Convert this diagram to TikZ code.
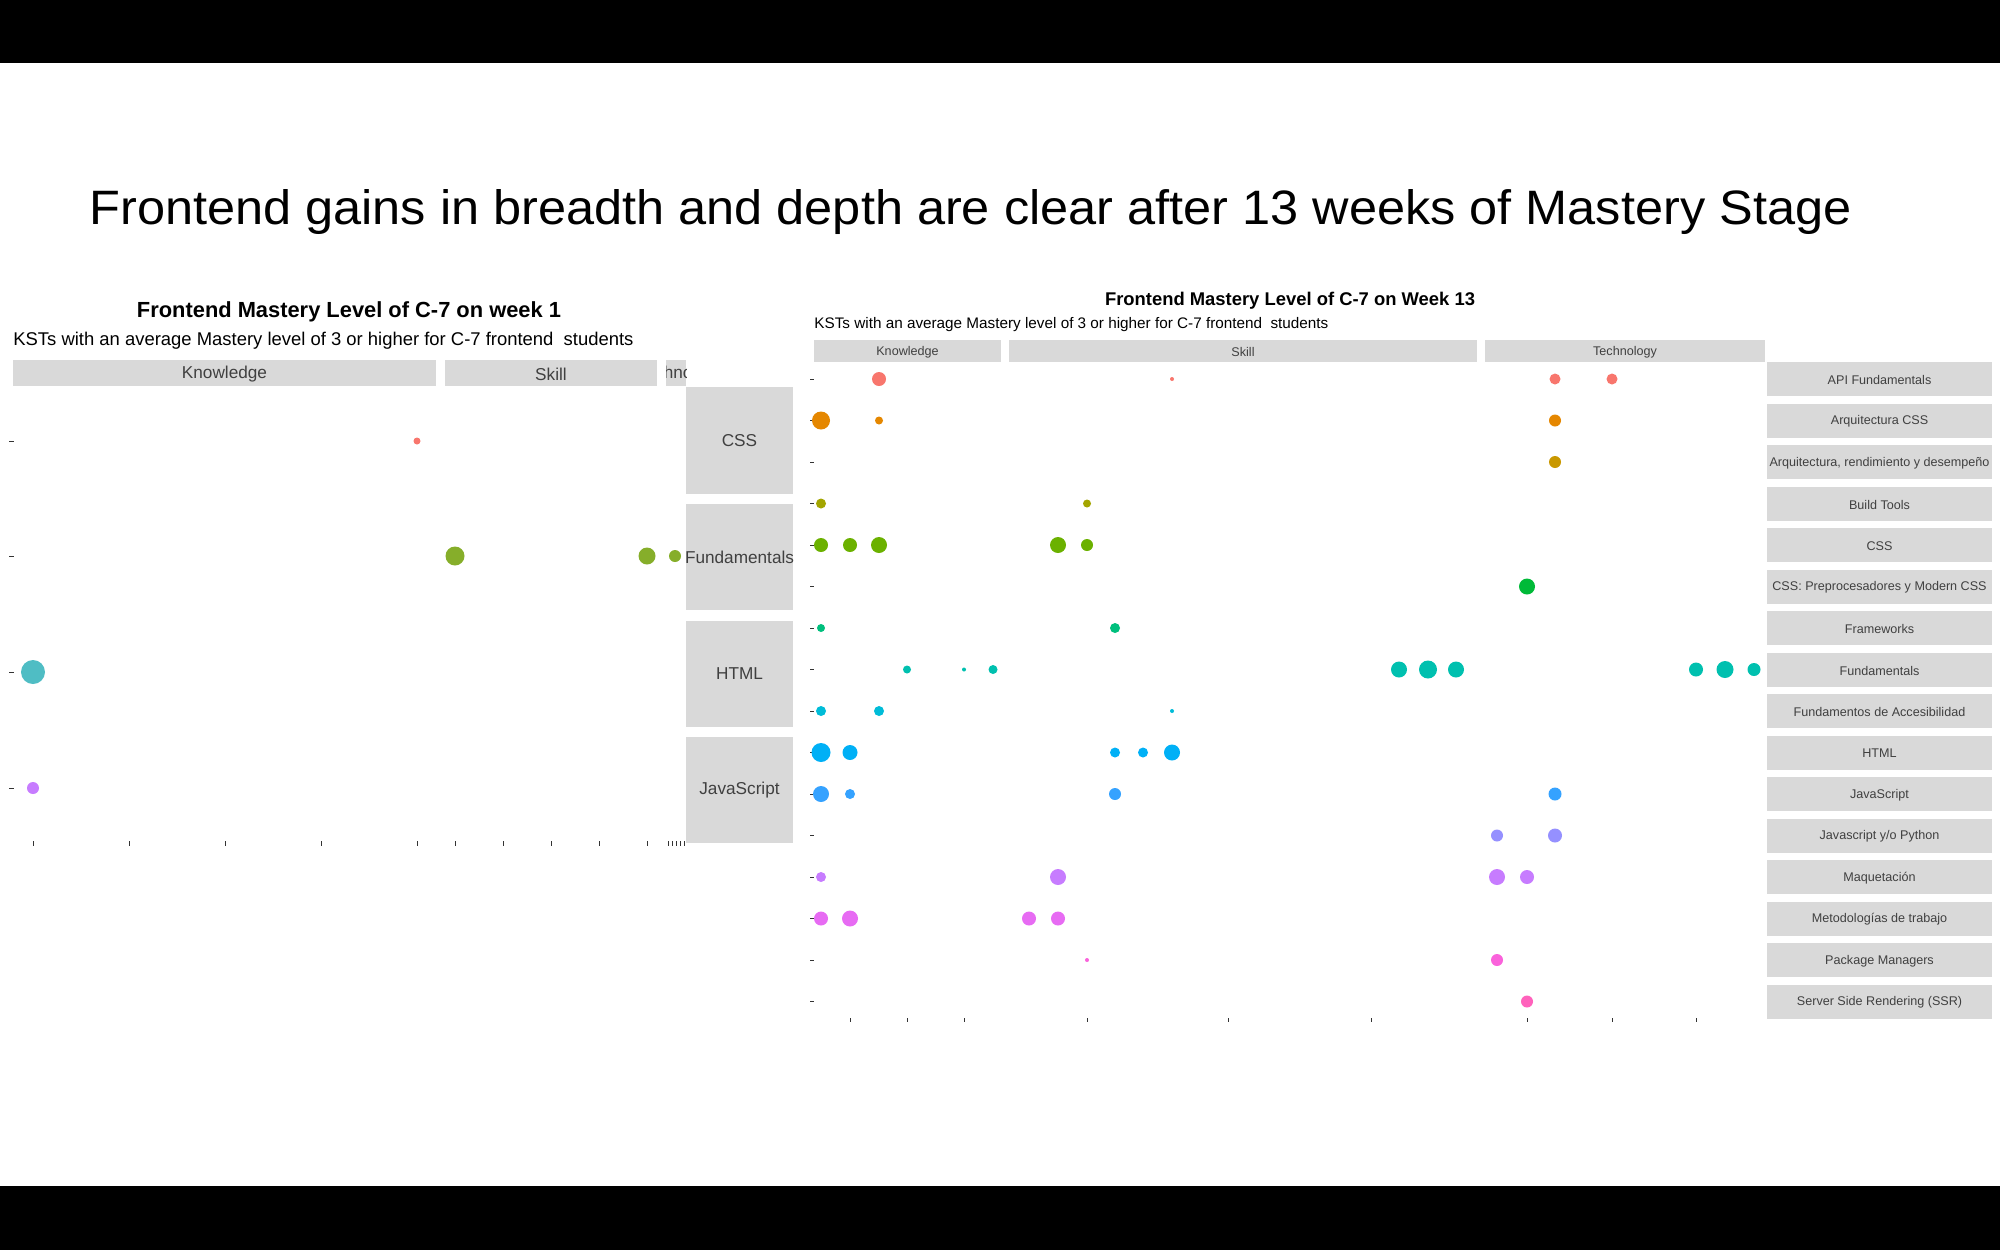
\documentclass[tikz,border=0pt]{standalone}
\usepackage{fontspec}
\setmainfont{Liberation Sans}
\usepackage{graphicx}
\definecolor{strip}{HTML}{D9D9D9}
\definecolor{tick}{HTML}{333333}
\definecolor{c1}{HTML}{F8766D}\definecolor{c2}{HTML}{E58700}\definecolor{c3}{HTML}{C99800}
\definecolor{c4}{HTML}{A3A500}\definecolor{c5}{HTML}{6BB100}\definecolor{c6}{HTML}{00BA38}
\definecolor{c7}{HTML}{00BF7D}\definecolor{c8}{HTML}{00C0AF}\definecolor{c9}{HTML}{00BCD8}
\definecolor{c10}{HTML}{00B0F6}\definecolor{c11}{HTML}{35A2FF}\definecolor{c12}{HTML}{9590FF}
\definecolor{c13}{HTML}{C77CFF}\definecolor{c14}{HTML}{E76BF3}\definecolor{c15}{HTML}{FA62DB}
\definecolor{c16}{HTML}{FF62BC}
\definecolor{lred}{HTML}{F8766D}\definecolor{lgreen}{HTML}{86AE2A}\definecolor{lteal}{HTML}{4FBDC4}\definecolor{lpurp}{HTML}{C77CFF}
\newcommand{\fitbox}[3]{\resizebox{#1pt}{#2}{#3}}
\newcommand{\lstrip}[1]{{\fontsize{8.6}{10}\selectfont\color{black!75}#1}}
\newcommand{\rstrip}[1]{{\fontsize{6.3}{7}\selectfont\color{black!75}#1}}
\begin{document}
\begin{tikzpicture}[x=0.5pt,y=-0.5pt,
  stripbox/.style={fill=strip,draw=none},
  dotc/.style={circle,inner sep=0pt,draw=none},
  tk/.style={draw=tick,line width=0.5pt}]
\useasboundingbox (0,0) rectangle (2000,1250);
\fill[black] (0,0) rectangle (2000,63);
\fill[black] (0,1186) rectangle (2000,1250);
\node[anchor=west,inner sep=0pt] (maintitle) at (89,212) {\fitbox{881}{17.5pt}{Frontend gains in breadth and depth are clear after 13 weeks of Mastery Stage}};

% ---------- left chart ----------
\node[inner sep=0pt,anchor=base] (ltitle) at (349,317) {\fitbox{212}{!}{\bfseries Frontend Mastery Level of C-7 on week 1}};
\node[inner sep=0pt,anchor=base west] (lsub) at (13,345) {\fitbox{310}{!}{KSTs with an average Mastery level of 3 or higher for C-7 frontend\ \ students}};
\fill[stripbox] (13,360) rectangle (436,386);
\fill[stripbox] (445,360) rectangle (657,386);
\fill[stripbox] (666,360) rectangle (686,386);
\node (lk) at (224.5,374) {\lstrip{Knowledge}};
\node (ls) at (551,374) {\lstrip{Skill}};
\begin{scope}
\clip (666,360) rectangle (686,386);
\node[anchor=west] (lt) at (630,374) {\lstrip{Technology}};
\end{scope}
\foreach \n/\t/\a/\b in {lcss/CSS/387/494, lfund/Fundamentals/504/610, lhtml/HTML/621/727, ljs/JavaScript/737/843}{
  \fill[stripbox] (686,\a) rectangle (793,\b);
  \node (\n) at (739.5,{(\a+\b)/2}) {\lstrip{\t}};
}
\foreach \y in {441,556,672,788}{\draw[tk] (9,\y) -- (14,\y);}
\foreach \x in {33,129,225,321,417,455,503,551,599,647,668,672,676,680,684}{\draw[tk] (\x,841) -- (\x,846);}
\node[dotc,fill=lred,minimum size=3.5pt] (l1) at (417,441) {};
\node[dotc,fill=lgreen,minimum size=9.5pt] (l2) at (455,556) {};
\node[dotc,fill=lgreen,minimum size=8.5pt] (l3) at (647,556) {};
\node[dotc,fill=lgreen,minimum size=6pt] (l4) at (675,556) {};
\node[dotc,fill=lteal,minimum size=12pt] (l5) at (33,672) {};
\node[dotc,fill=lpurp,minimum size=6pt] (l6) at (33,788) {};

% ---------- right chart ----------
\node[inner sep=0pt,anchor=base] (rtitle) at (1290,305) {\fitbox{185}{!}{\bfseries Frontend Mastery Level of C-7 on Week 13}};
\node[inner sep=0pt,anchor=base west] (rsub) at (814,328) {\fitbox{257}{!}{KSTs with an average Mastery level of 3 or higher for C-7 frontend\ \ students}};
\fill[stripbox] (814,340) rectangle (1001,362);
\fill[stripbox] (1009,340) rectangle (1477,362);
\fill[stripbox] (1485,340) rectangle (1765,362);
\node (rk) at (907.5,352) {\rstrip{Knowledge}};
\node (rs) at (1243,352) {\rstrip{Skill}};
\node (rt) at (1625,352) {\rstrip{Technology}};
\foreach \t [count=\k] in {API Fundamentals,Arquitectura CSS,{Arquitectura, rendimiento y desempeño},Build Tools,CSS,CSS: Preprocesadores y Modern CSS,Frameworks,Fundamentals,Fundamentos de Accesibilidad,HTML,JavaScript,{Javascript y/o Python},Maquetación,Metodologías de trabajo,Package Managers,Server Side Rendering (SSR)}{
  \pgfmathsetmacro{\yy}{379+(\k-1)*41.5}
  \fill[stripbox] (1767,\yy-17) rectangle (1992,\yy+17);
  \node (rf\k) at (1879.5,\yy+1) {\rstrip{\t}};
  \draw[tk] (810,\yy) -- (814,\yy);
}
\foreach \x in {850,907,964,1087,1228,1371,1527,1612,1696}{\draw[tk] (\x,1018) -- (\x,1022);}
\foreach \r/\x/\d/\c [count=\j] in {
 1/879/14/c1, 1/1172/4/c1, 1/1555/11/c1, 1/1612/11/c1,
 2/821/18/c2, 2/879/8/c2, 2/1555/12/c2,
 3/1555/12/c3,
 4/821/10/c4, 4/1087/8/c4,
 5/821/14/c5, 5/850/14/c5, 5/879/16/c5, 5/1058/16/c5, 5/1087/12/c5,
 6/1527/16/c6,
 7/821/8/c7, 7/1115/10/c7,
 8/907/8/c8, 8/964/4/c8, 8/993/9/c8, 8/1399/16/c8, 8/1428/18/c8, 8/1456/16/c8, 8/1696/14/c8, 8/1725/17/c8, 8/1754/13/c8,
 9/821/10/c9, 9/879/10/c9, 9/1172/4/c9,
 10/821/19/c10, 10/850/15/c10, 10/1115/10/c10, 10/1143/10/c10, 10/1172/16/c10,
 11/821/16/c11, 11/850/10/c11, 11/1115/12/c11, 11/1555/13/c11,
 12/1497/12/c12, 12/1555/14/c12,
 13/821/10/c13, 13/1058/16/c13, 13/1497/16/c13, 13/1527/14/c13,
 14/821/14/c14, 14/850/16/c14, 14/1029/14/c14, 14/1058/14/c14,
 15/1087/4/c15, 15/1497/12/c15,
 16/1527/12/c16}{
  \pgfmathsetmacro{\yy}{379+(\r-1)*41.5}
  \node[dotc,fill=\c,minimum size=\d*0.5pt] (rd\j) at (\x,\yy) {};
}
\end{tikzpicture}
\end{document}
